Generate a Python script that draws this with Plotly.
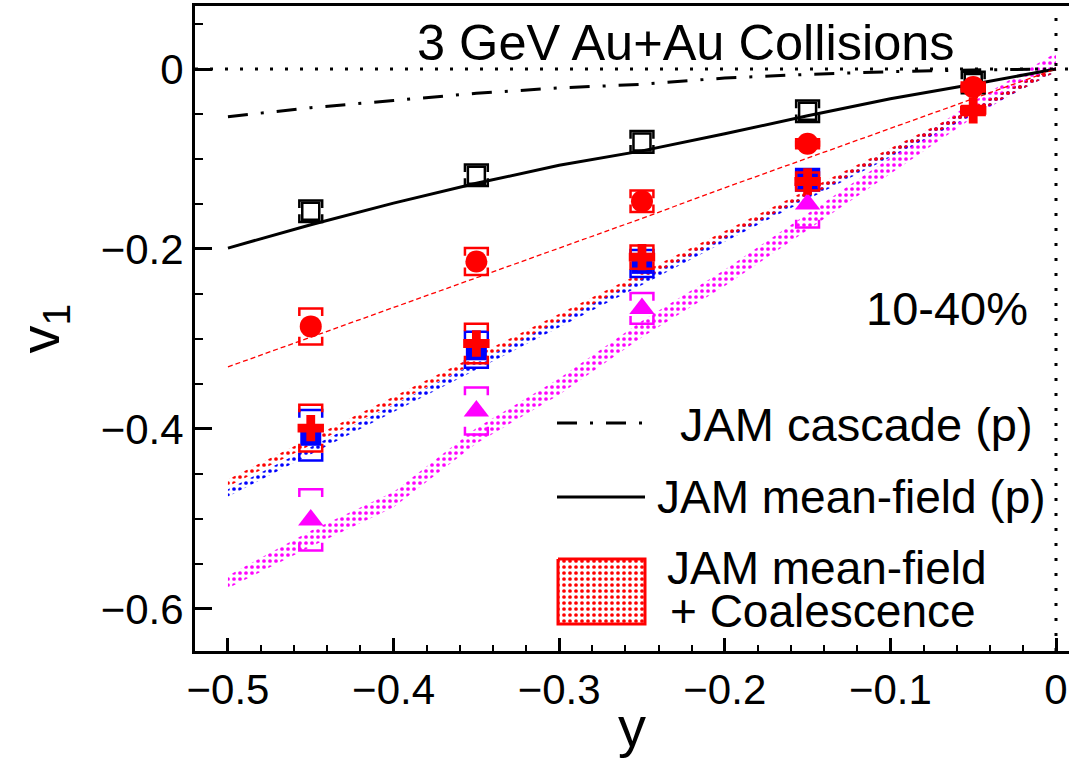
import plotly.graph_objects as go

# ---------------- data ----------------
rap = [-0.45, -0.35, -0.25, -0.15, -0.05]
p_v1 = [-0.158, -0.118, -0.081, -0.047, -0.015]
p_sys = [0.012, 0.012, 0.012, 0.012, 0.012]
d_v1 = [-0.286, -0.214, -0.147, -0.083, -0.020]
d_sys = [0.020, 0.015, 0.012, 0.005, 0.005]
t_v1 = [-0.399, -0.305, -0.209, -0.125, -0.046]
t_sys = [0.026, 0.022, 0.013, 0.010, 0.005]
he_rap = [-0.45, -0.35, -0.25, -0.15]
he3_v1 = [-0.407, -0.312, -0.216, -0.123]
he3_sys = [0.028, 0.020, 0.015, 0.012]
he4_v1 = [-0.501, -0.380, -0.266, -0.150]
he4_sys = [0.034, 0.026, 0.017, 0.026]

model_y = [-0.5, -0.45, -0.4, -0.35, -0.3, -0.25, -0.2, -0.15, -0.1, -0.05, 0.0]
cascade_p = [-0.053, -0.043, -0.035, -0.027, -0.021, -0.017, -0.010, -0.006, -0.003, -0.001, 0.0]
meanfield_p = [-0.199, -0.173, -0.149, -0.127, -0.107, -0.091, -0.072, -0.052, -0.033, -0.017, 0.0]
coal_d = [-0.331, -0.298, -0.265, -0.232, -0.199, -0.166, -0.132, -0.099, -0.066, -0.033, 0.0]
coal_t_lo = [-0.464, -0.418, -0.372, -0.326, -0.280, -0.234, -0.188, -0.142, -0.096, -0.050, -0.003]
coal_t_hi = [-0.456, -0.410, -0.364, -0.318, -0.272, -0.226, -0.180, -0.134, -0.088, -0.042, 0.003]
coal_he3_lo = [-0.475, -0.428, -0.381, -0.334, -0.287, -0.240, -0.192, -0.145, -0.098, -0.051, -0.003]
coal_he3_hi = [-0.467, -0.420, -0.373, -0.326, -0.279, -0.232, -0.184, -0.137, -0.090, -0.043, 0.003]
coal_he4_lo = [-0.577, -0.531, -0.487, -0.416, -0.362, -0.298, -0.241, -0.179, -0.117, -0.054, 0.002]
coal_he4_hi = [-0.563, -0.513, -0.470, -0.399, -0.344, -0.280, -0.223, -0.161, -0.099, -0.036, 0.018]

x_ticks = [-0.5, -0.4, -0.3, -0.2, -0.1, 0.0]
y_ticks = [0.0, -0.2, -0.4, -0.6]

FONT = "Liberation Sans, Arial, sans-serif"
RED, BLUE, MAG, BLK = "#ff0000", "#0000ff", "#ff00ff", "#000000"
PATTERN = dict(shape=".", bgcolor="rgba(0,0,0,0)", size=6, solidity=0.3, fgopacity=1)

fig = go.Figure()


def band(lo, hi, color):
    xs = list(model_y) + list(reversed(model_y))
    ys = list(hi) + list(reversed(lo))
    fig.add_trace(go.Scatter(
        x=xs, y=ys, mode="lines", fill="toself",
        fillcolor="rgba(0,0,0,0)", line=dict(width=0, color=color),
        fillpattern=dict(PATTERN, fgcolor=color),
        hoverinfo="skip", showlegend=False))


band(coal_he4_lo, coal_he4_hi, MAG)
band(coal_he3_lo, coal_he3_hi, BLUE)
band(coal_t_lo, coal_t_hi, RED)

fig.add_trace(go.Scatter(x=model_y, y=cascade_p, mode="lines",
                         line=dict(color=BLK, width=3, dash="20px,13px,3px,13px"),
                         showlegend=False))
fig.add_trace(go.Scatter(x=model_y, y=meanfield_p, mode="lines",
                         line=dict(color=BLK, width=3), showlegend=False))
fig.add_trace(go.Scatter(x=model_y, y=coal_d, mode="lines",
                         line=dict(color=RED, width=1.3, dash="5px,3px"),
                         showlegend=False))

HW = 0.0069   # half width of systematic bracket (x units)
LEG = 0.0085  # bracket leg length (v1 units)


def brackets(xs, ys, ss, color):
    bx, by = [], []
    for x, y, s in zip(xs, ys, ss):
        top = y + s
        bot = y - s
        bx += [x - HW, x - HW, x + HW, x + HW, None]
        by += [top - LEG, top, top, top - LEG, None]
        bx += [x - HW, x - HW, x + HW, x + HW, None]
        by += [bot + LEG, bot, bot, bot + LEG, None]
    fig.add_trace(go.Scatter(x=bx, y=by, mode="lines",
                             line=dict(color=color, width=2.5),
                             hoverinfo="skip", showlegend=False))


def points(xs, ys, symbol, color, size=22, lw=0):
    fig.add_trace(go.Scatter(x=xs, y=ys, mode="markers",
                             marker=dict(symbol=symbol, size=size, color=color,
                                         line=dict(width=lw, color=color)),
                             showlegend=False))


brackets(rap, p_v1, p_sys, BLK)
points(rap, p_v1, "square-open", BLK, size=17, lw=2.5)
brackets(rap, d_v1, d_sys, RED)
points(rap, d_v1, "circle", RED)
brackets(he_rap, he3_v1, he3_sys, BLUE)
points(he_rap, he3_v1, "square", BLUE, size=21)
brackets(he_rap, he4_v1, he4_sys, MAG)
points(he_rap, he4_v1, "triangle-up", MAG, size=22)
brackets(rap, t_v1, t_sys, RED)
points(rap, t_v1, "cross", RED, size=22)

# zero reference lines
fig.add_hline(y=0, line=dict(color=BLK, width=3, dash="3px,12px"))
fig.add_vline(x=0, line=dict(color=BLK, width=3, dash="3px,12px"))

# ---------------- legend (drawn on pixel overlay axes) ----------------
fig.add_trace(go.Scatter(x=[557, 643], y=[423, 423], mode="lines", xaxis="x2", yaxis="y2",
                         line=dict(color=BLK, width=3, dash="20px,13px,3px,13px"),
                         showlegend=False, hoverinfo="skip"))
fig.add_trace(go.Scatter(x=[557, 645], y=[497, 497], mode="lines", xaxis="x2", yaxis="y2",
                         line=dict(color=BLK, width=3), showlegend=False, hoverinfo="skip"))
fig.add_trace(go.Scatter(x=[558, 645, 645, 558, 558], y=[559, 559, 624, 624, 559],
                         mode="lines", fill="toself", xaxis="x2", yaxis="y2",
                         fillcolor="rgba(0,0,0,0)", line=dict(color=RED, width=3),
                         fillpattern=dict(PATTERN, fgcolor=RED),
                         showlegend=False, hoverinfo="skip"))

ann = [
    ("3 GeV Au+Au Collisions", 415, 42, 50.5),
    ("10-40%", 864, 308, 47),
    ("JAM cascade (p)", 678, 424, 47),
    ("JAM mean-field (p)", 655, 497, 46),
    ("JAM mean-field", 665, 568, 46),
    ("+ Coalescence", 668, 611, 46),
]
for txt, ax_, ay_, fs in ann:
    fig.add_annotation(text=txt, x=ax_, y=ay_, xref="x2", yref="y2", showarrow=False,
                       xanchor="left", yanchor="middle",
                       font=dict(family=FONT, size=fs, color=BLK))

fig.update_layout(
    width=1069, height=758,
    margin=dict(l=195, r=0, t=6, b=107),
    paper_bgcolor="white", plot_bgcolor="white",
    showlegend=False,
    font=dict(family=FONT, color=BLK),
    xaxis=dict(range=[-0.5199, 0.00785], tickvals=x_ticks,
               ticks="inside", ticklen=13, tickwidth=2.5, tickcolor=BLK,
               showline=True, linewidth=3, linecolor=BLK, mirror=True,
               showgrid=False, zeroline=False,
               minor=dict(dtick=0.02, tick0=0, ticks="inside", ticklen=6,
                          tickwidth=2, tickcolor=BLK, showgrid=False),
               tickfont=dict(family=FONT, size=42, color=BLK),
               title=dict(text="y", font=dict(family=FONT, size=56, color=BLK), standoff=0)),
    yaxis=dict(range=[-0.6467, 0.070], tickvals=y_ticks,
               ticks="inside", ticklen=17, tickwidth=2.5, tickcolor=BLK,
               showline=True, linewidth=3, linecolor=BLK, mirror=False,
               showgrid=False, zeroline=False,
               minor=dict(dtick=0.05, tick0=0, ticks="inside", ticklen=8,
                          tickwidth=2, tickcolor=BLK, showgrid=False),
               tickfont=dict(family=FONT, size=42, color=BLK),
               title=dict(text="v<sub>1</sub>", font=dict(family=FONT, size=56, color=BLK),
                          standoff=24)),
    xaxis2=dict(overlaying="x", range=[195, 1069], visible=False, fixedrange=True),
    yaxis2=dict(overlaying="y", range=[651, 6], visible=False, fixedrange=True),
)

fig.write_html("out.html")
